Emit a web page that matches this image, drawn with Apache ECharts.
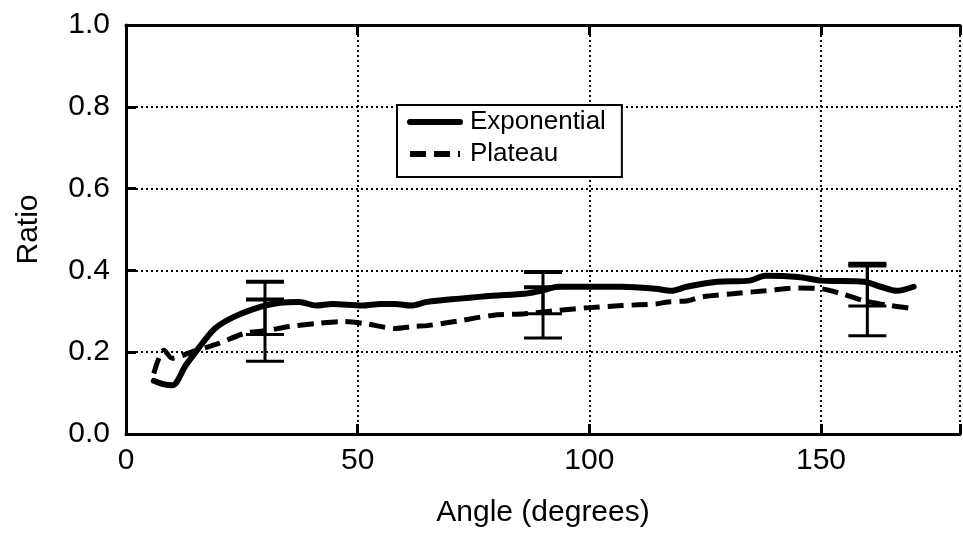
<!DOCTYPE html>
<html><head><meta charset="utf-8">
<script src="https://cdn.jsdelivr.net/npm/echarts@6/dist/echarts.min.js"></script>
<style>html,body{margin:0;padding:0;background:#fff}#c{width:963px;height:533px}</style>
</head><body><div id="c"></div>
<script>
const xTicks = [0, 50, 100, 150];
const yTicks = [0.0, 0.2, 0.4, 0.6, 0.8, 1.0];
const seriesNames = ['Exponential', 'Plateau'];
const expX = [6, 8, 10, 12.9, 15.6, 19.2, 23.4, 29, 33.2, 37.4, 41, 44.5, 51, 55, 58, 61.5, 65, 72, 79, 86, 89.6, 93.2, 100, 107, 114.3, 117.7, 121, 127.6, 134.6, 138, 145, 150.2, 159.3, 162.9, 166.3, 170];
const expY = [0.13, 0.122, 0.119, 0.168, 0.209, 0.258, 0.287, 0.311, 0.321, 0.323, 0.314, 0.318, 0.314, 0.318, 0.318, 0.314, 0.323, 0.331, 0.338, 0.343, 0.35, 0.36, 0.36, 0.36, 0.355, 0.35, 0.36, 0.372, 0.375, 0.387, 0.384, 0.375, 0.372, 0.36, 0.35, 0.36];
const platX = [6, 8.2, 10, 14.2, 19.9, 25.6, 30.4, 35.3, 41, 46.7, 51.5, 58.2, 62, 65, 72, 79, 86, 93.2, 100, 107, 114.3, 117, 121.3, 124, 131, 138, 145, 150.2, 154.4, 159.3, 165, 169.5];
const platY = [0.148, 0.205, 0.185, 0.201, 0.221, 0.246, 0.253, 0.263, 0.27, 0.275, 0.27, 0.258, 0.263, 0.265, 0.277, 0.29, 0.294, 0.302, 0.309, 0.314, 0.318, 0.323, 0.326, 0.335, 0.343, 0.35, 0.357, 0.355, 0.343, 0.326, 0.314, 0.307];
const errX = [30, 30, 90, 90, 160, 160];
const errLow = [0.243, 0.178, 0.294, 0.235, 0.313, 0.24];
const errHigh = [0.372, 0.329, 0.396, 0.359, 0.416, 0.412];

const pairs = (xs, ys) => xs.map((x, i) => [x, ys[i]]);
const errData = errX.map((x, i) => [x, errLow[i], errHigh[i]]);
const FONT = 'Liberation Sans';

const chart = echarts.init(document.getElementById('c'), null, {renderer: 'canvas'});
chart.setOption({
  animation: false,
  backgroundColor: '#fff',
  textStyle: {fontFamily: FONT, color: '#000'},
  grid: {left: 126, top: 25, width: 852, height: 411, containLabel: false},
  legend: {
    data: seriesNames,
    orient: 'vertical',
    left: 397, top: 105,
    backgroundColor: '#fff',
    borderColor: '#000', borderWidth: 2, borderRadius: 0,
    padding: [4, 16, 10, 10],
    itemWidth: 50, itemHeight: 22, itemGap: 6,
    itemStyle: {opacity: 0},
    lineStyle: {width: 6},
    textStyle: {fontFamily: FONT, fontSize: 26, color: '#000', padding: [0, 0, 0, 5]}
  },
  xAxis: [{
    type: 'value', min: 0, max: 180, interval: 50, position: 'bottom',
    name: 'Angle (degrees)', nameLocation: 'middle', nameGap: 64,
    nameTextStyle: {fontFamily: FONT, fontSize: 30, color: '#000'},
    axisLine: {show: true, lineStyle: {color: '#000', width: 3}},
    axisTick: {show: true, inside: true, length: 10, lineStyle: {color: '#000', width: 3}},
    axisLabel: {fontFamily: FONT, fontSize: 30, color: '#000', margin: 12,
      formatter: v => xTicks.includes(v) ? String(v) : ''},
    splitLine: {show: true, lineStyle: {color: '#000', width: 2, type: [2, 3]}}
  }, {
    type: 'value', min: 0, max: 180, interval: 50, position: 'top',
    axisLine: {show: true, lineStyle: {color: '#000', width: 3}},
    axisTick: {show: true, inside: true, length: 10, lineStyle: {color: '#000', width: 3}},
    axisLabel: {show: false}, splitLine: {show: false}
  }],
  yAxis: {
    type: 'value', min: 0, max: 1, interval: 0.2,
    name: 'Ratio', nameLocation: 'middle', nameGap: 82, nameRotate: 90,
    nameTextStyle: {fontFamily: FONT, fontSize: 30, color: '#000'},
    axisLine: {show: true, lineStyle: {color: '#000', width: 3}},
    axisTick: {show: true, inside: true, length: 10, lineStyle: {color: '#000', width: 3}},
    axisLabel: {fontFamily: FONT, fontSize: 30, color: '#000', margin: 16,
      formatter: v => v.toFixed(1)},
    splitLine: {show: true, lineStyle: {color: '#000', width: 2, type: [2, 3]}}
  },
  series: [{
    name: seriesNames[0], type: 'line', data: pairs(expX, expY),
    symbol: 'none', smooth: 0.3, z: 3,
    lineStyle: {color: '#000', width: 6, cap: 'round', join: 'round'},
    itemStyle: {color: '#000'}
  }, {
    name: seriesNames[1], type: 'line', data: pairs(platX, platY),
    symbol: 'none', smooth: 0.3, z: 3,
    lineStyle: {color: '#000', width: 5, type: [16, 8]},
    itemStyle: {color: '#000'}
  }, {
    name: 'err', type: 'custom', z: 4,
    data: errData,
    renderItem: (params, api) => {
      const x = api.value(0);
      const lo = api.coord([x, api.value(1)]);
      const hi = api.coord([x, api.value(2)]);
      const hw = 19;
      const st = {stroke: '#000', lineWidth: 3};
      return {type: 'group', children: [
        {type: 'line', shape: {x1: lo[0], y1: lo[1], x2: hi[0], y2: hi[1]}, style: st},
        {type: 'line', shape: {x1: lo[0] - hw, y1: lo[1], x2: lo[0] + hw, y2: lo[1]}, style: st},
        {type: 'line', shape: {x1: hi[0] - hw, y1: hi[1], x2: hi[0] + hw, y2: hi[1]}, style: {stroke: '#000', lineWidth: 4}}
      ]};
    }
  }]
});
</script></body></html>
